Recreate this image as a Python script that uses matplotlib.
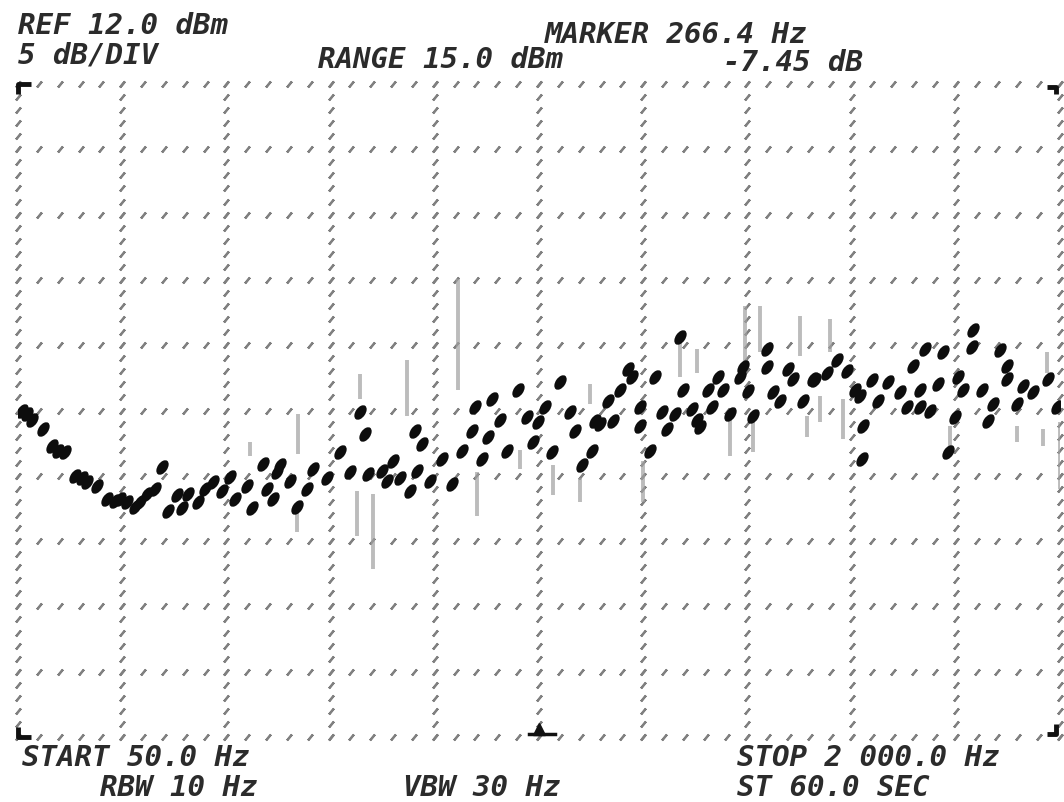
import numpy as np
import matplotlib.pyplot as plt
from matplotlib.path import Path
from matplotlib.transforms import Affine2D

# spectrum analyzer printout: 50 Hz .. 2000 Hz, ref 12 dBm, 5 dB/div
f_start, f_stop = 50.0, 2000.0
ref_level, db_div = 12.0, 5.0

# trace dots (Hz, dBm)
freq = [57, 67, 76, 97, 114, 125, 138, 157, 170, 179, 198, 217, 232, 241, 254, 269, 278,
        291, 306, 319, 331,
        348, 357, 368, 387, 400, 415, 432, 447, 456, 479, 488, 508, 516, 535,
        540, 527, 559, 572, 591, 602, 628, 652, 671, 690, 699, 705, 731, 740, 752,
        765, 784, 797, 806, 793, 821, 843, 862, 881, 900, 905, 918, 929, 937, 952,
        965, 986, 1003, 1014, 1023, 1036,
        1049, 1064, 1083, 1092, 1105, 1124, 1130, 1139, 1154, 1163, 1177, 1192, 1199,
        1214, 1214, 1233, 1242, 1255, 1265, 1280, 1289, 1294, 1311, 1321, 1326, 1341,
        1349, 1360, 1369, 1382, 1401, 1407, 1416, 1425, 1452, 1452, 1463, 1476, 1491,
        1500, 1519, 1538,
        1541, 1564, 1583, 1601, 1616, 1626, 1631, 1629, 1648, 1659, 1678, 1700, 1714,
        1725, 1738, 1738, 1747, 1757, 1772, 1781, 1790, 1803, 1809, 1818, 1837, 1835,
        1854, 1865, 1874, 1888, 1901, 1901, 1920, 1931, 1950, 1978, 1994]
level = [-13.0, -13.3, -13.7, -14.4, -15.7, -16.1, -16.2, -18.0, -18.2, -18.5, -18.8, -19.8,
         -19.9, -19.8, -20.0, -20.4, -20.0,
         -19.4, -19.0, -17.3, -20.7, -19.5, -20.5, -19.4, -20.0, -19.0, -18.5, -19.2, -18.1,
         -19.8, -18.8, -20.5, -17.1, -19.0, -17.7,
         -17.2, -19.8, -18.4, -20.4, -19.0, -17.5, -18.2, -16.2, -17.7, -13.1, -14.8, -17.9,
         -17.6, -18.4, -16.9, -18.2, -19.2, -17.6, -15.6, -14.6, -18.4, -16.7, -18.6, -16.1,
         -14.6, -12.7, -16.7, -15.0, -12.1, -13.7, -16.1, -11.4, -13.5, -15.4, -13.9, -12.7,
         -16.2, -10.8, -13.1, -14.6, -17.2, -16.1, -13.8, -14.0, -12.3, -13.8, -11.4, -9.8,
         -10.4, -12.7, -14.2, -16.1, -10.4, -13.1, -14.4, -13.3, -7.4, -11.4, -12.9, -13.7,
         -14.3, -11.4, -12.7, -10.4, -11.4, -13.3, -10.4, -9.7, -11.5, -13.4, -8.3, -9.7,
         -11.6, -12.3, -9.8, -10.6, -12.3, -10.6,
         -10.7, -10.1, -9.1, -10.0, -11.4, -11.9, -14.2, -16.7, -10.7, -12.3, -10.8, -11.6,
         -12.7, -9.6, -11.4, -12.7, -8.3, -13.0, -11.0, -8.5, -16.2, -13.5, -10.4, -11.4,
         -6.8, -8.1, -11.4, -13.8, -12.5, -8.4, -9.6, -10.6, -12.5, -11.1, -11.6, -10.6, -12.7]

# faint grey vertical streaks (Hz, top dBm, bottom dBm)
spur_freq = [484, 574, 572, 690, 684, 714, 778, 873, 909, 989, 1051, 1102, 1120, 1220,
             1289, 1321, 1382, 1410, 1439, 1425, 1513, 1570, 1551, 1594, 1526, 1794,
             1920, 1968, 1976, 2000]
spur_top = [-15.4, -13.3, -20.2, -10.2, -19.2, -19.4, -9.1, -2.9, -17.7, -16.0, -17.2,
            -18.2, -11.0, -16.9, -7.5, -8.3, -13.1, -5.0, -5.0, -13.1, -5.8, -6.0, -11.9,
            -12.1, -13.4, -14.2, -14.2, -14.4, -8.5, -13.9]
spur_bot = [-16.5, -16.3, -22.3, -12.1, -22.6, -25.1, -13.4, -11.4, -21.1, -17.5, -19.5,
            -20.0, -12.5, -20.0, -10.4, -10.1, -16.5, -9.3, -8.5, -16.2, -8.8, -8.5, -13.9,
            -15.2, -15.0, -15.7, -15.4, -15.7, -10.1, -19.0]

top_text = [("REF 12.0 dBm", 18, 12), ("5 dB/DIV", 18, 42), ("RANGE 15.0 dBm", 318, 46),
            ("MARKER 266.4 Hz", 545, 21), ("-7.45 dB", 723, 49)]
bottom_text = [("START 50.0 Hz", 22, 744), ("RBW 10 Hz", 100, 774), ("VBW 30 Hz", 403, 774),
               ("STOP 2 000.0 Hz", 737, 744), ("ST 60.0 SEC", 737, 774)]

W, H = 1064, 803
fig = plt.figure(figsize=(W / 100, H / 100), dpi=100)
fig.patch.set_facecolor('white')
ax = fig.add_axes([18 / W, 1 - 738 / H, 1042 / W, 653 / H])
ax.set_xlim(f_start, f_stop)
ax.set_ylim(ref_level - 10 * db_div, ref_level)
ax.axis('off')

# dotted graticule, 5 slanted dots per division
xs = np.linspace(f_start, f_stop, 51)
ys = np.linspace(ref_level - 10 * db_div, ref_level, 51)
gx = np.linspace(f_start, f_stop, 11)
gy = np.linspace(ref_level - 10 * db_div, ref_level, 11)
dash = (2, 2, -40)
for y in gy:
    ax.plot(xs, np.full_like(xs, y), ls='none', marker=dash, ms=5.5, mew=1.6,
            mec='#808080', clip_on=False, zorder=1)
for x in gx:
    ax.plot(np.full_like(ys, x), ys, ls='none', marker=dash, ms=5.5, mew=1.6,
            mec='#808080', clip_on=False, zorder=1)

# corner marks and centre marker
tr = ax.transAxes
kw = dict(color='#111111', lw=3.5, transform=tr, clip_on=False, solid_capstyle='butt')
ax.plot([0, 0, 0.012], [0.985, 1.0, 1.0], **kw)
ax.plot([0, 0, 0.012], [0.015, 0.0, 0.0], **kw)
ax.plot([0.996, 0.996, 0.988], [0.985, 0.995, 0.995], **kw)
ax.plot([0.996, 0.996, 0.988], [0.02, 0.005, 0.005], **kw)
ax.plot([0.5], [0.012], marker='^', ms=9, color='#111111', transform=tr, clip_on=False)
ax.plot([0.49, 0.515], [0.005, 0.005], color='#111111', lw=2.5, transform=tr, clip_on=False)

# grey streaks
ax.vlines(spur_freq, spur_bot, spur_top, colors='#a0a0a0', lw=2.8, alpha=0.7, zorder=2)

# slanted blob marker for the trace
blob = Path.unit_circle().transformed(Affine2D().scale(0.6, 1.0).rotate_deg(-35))
ax.scatter(freq, level, marker=blob, s=115, c='#0d0d0d', lw=0, zorder=3)

fnt = dict(family='DejaVu Sans Mono', weight='bold', style='oblique', size=21,
           color='#2b2b2b', va='top', ha='left')
for s, x, y in top_text + bottom_text:
    fig.text(x / W, 1 - y / H, s, **fnt)

fig.savefig('out.png', dpi=100, facecolor='white')
